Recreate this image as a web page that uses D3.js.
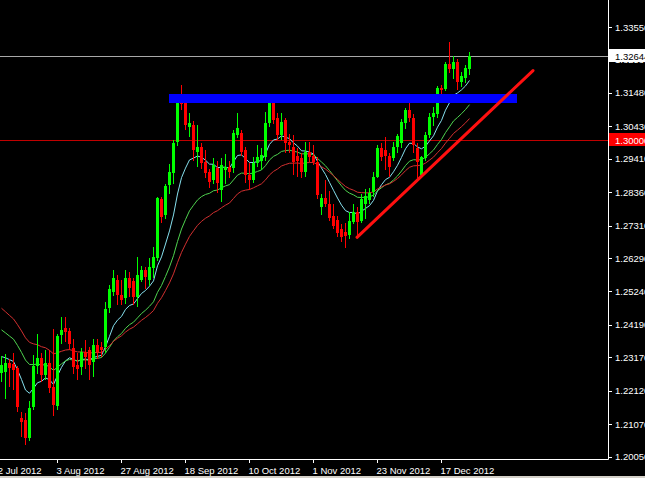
<!DOCTYPE html>
<html><head><meta charset="utf-8">
<script src="https://cdn.jsdelivr.net/npm/d3@7"></script>
<style>
body{margin:0;background:#000;overflow:hidden}
text{font-family:"Liberation Sans",Arial,sans-serif;font-size:9.5px}
</style>
</head><body>
<svg id="chart" width="645" height="478"></svg>
<script>
// ---------- DATA ----------
const firstBarDate = "2012-07-16";
const calendarStart = "2012-07-12";
const calendarEnd = "2013-02-28";
const holidays = ["2012-12-25"];

const opens = [1.2268,1.2270,1.2300,1.2297,1.2282,1.2126,1.2120,1.2064,1.2160,1.2290,
1.2315,1.2262,1.2300,1.2222,1.2165,1.2385,1.2410,1.2400,1.2345,1.2292,
1.2286,1.2333,1.2340,1.2300,1.2355,1.2349,1.2349,1.2470,1.2522,1.2560,
1.2513,1.2504,1.2567,1.2556,1.2506,1.2560,1.2591,1.2560,1.2598,1.2629,
1.2815,1.2765,1.2858,1.2896,1.2993,1.3128,1.3116,1.3040,1.3047,1.2962,
1.2978,1.2931,1.2899,1.2874,1.2912,1.2843,1.2906,1.2915,1.2912,1.3016,
1.3022,1.2969,1.2890,1.2874,1.2928,1.2935,1.2946,1.3053,1.3119,1.3069,
1.3016,1.3063,1.2995,1.2978,1.2950,1.2943,1.2899,1.2962,1.2950,1.2930,
1.2790,1.2818,1.2800,1.2760,1.2748,1.2720,1.2712,1.2702,1.2745,1.2775,
1.2745,1.2800,1.2811,1.2837,1.2884,1.2975,1.2968,1.2950,1.2943,1.2978,
1.2990,1.3053,1.3094,1.3069,1.2975,1.2890,1.2943,1.3016,1.3072,1.3080,
1.3163,1.3160,1.3238,1.3222,1.3245,1.3182,1.3195,1.3222];
const highs = [1.2322,1.2326,1.2312,1.2330,1.2290,1.2145,1.2142,1.2180,1.2325,1.2390,
1.2330,1.2340,1.2340,1.2405,1.2390,1.2444,1.2444,1.2410,1.2375,1.2330,
1.2345,1.2372,1.2350,1.2375,1.2375,1.2365,1.2490,1.2545,1.2592,1.2575,
1.2560,1.2590,1.2585,1.2565,1.2632,1.2605,1.2600,1.2629,1.2665,1.2820,
1.2822,1.2860,1.2925,1.3000,1.3135,1.3172,1.3130,1.3085,1.3060,1.3047,
1.2990,1.2969,1.2910,1.2943,1.2935,1.2943,1.2955,1.2935,1.3030,1.3085,
1.3030,1.2978,1.2928,1.2946,1.2984,1.2975,1.3088,1.3141,1.3140,1.3085,
1.3085,1.3070,1.3020,1.3015,1.2975,1.2960,1.2994,1.2995,1.2985,1.2945,
1.2830,1.2875,1.2840,1.2800,1.2760,1.2735,1.2740,1.2775,1.2800,1.2790,
1.2830,1.2845,1.2850,1.2900,1.2985,1.2990,1.3010,1.2960,1.2995,1.3020,
1.3065,1.3100,1.3126,1.3080,1.2990,1.2950,1.3025,1.3085,1.3105,1.3170,
1.3173,1.3245,1.3308,1.3265,1.3254,1.3215,1.3235,1.3275];
const lows = [1.2238,1.2185,1.2222,1.2214,1.2145,1.2067,1.2042,1.2055,1.2150,1.2265,
1.2240,1.2245,1.2205,1.2133,1.2150,1.2360,1.2365,1.2340,1.2265,1.2245,
1.2260,1.2280,1.2245,1.2255,1.2310,1.2318,1.2330,1.2455,1.2510,1.2480,
1.2480,1.2485,1.2505,1.2480,1.2475,1.2552,1.2530,1.2540,1.2565,1.2620,
1.2740,1.2750,1.2830,1.2860,1.2980,1.3095,1.3030,1.3009,1.2935,1.2915,
1.2910,1.2880,1.2849,1.2860,1.2833,1.2805,1.2860,1.2880,1.2895,1.3005,
1.2950,1.2865,1.2843,1.2865,1.2915,1.2905,1.2935,1.3040,1.3050,1.3000,
1.3000,1.2960,1.2960,1.2890,1.2885,1.2880,1.2884,1.2930,1.2920,1.2815,
1.2765,1.2790,1.2745,1.2720,1.2695,1.2680,1.2660,1.2690,1.2735,1.2700,
1.2740,1.2750,1.2800,1.2820,1.2880,1.2935,1.2905,1.2885,1.2935,1.2960,
1.2975,1.3035,1.3055,1.2960,1.2880,1.2880,1.2935,1.3005,1.3045,1.3070,
1.3141,1.3155,1.3210,1.3190,1.3157,1.3165,1.3180,1.3205];
const closes = [1.2292,1.2299,1.2283,1.2277,1.2158,1.2113,1.2064,1.2158,1.2290,1.2315,
1.2262,1.2300,1.2220,1.2165,1.2385,1.2402,1.2396,1.2360,1.2286,1.2280,
1.2333,1.2318,1.2293,1.2355,1.2333,1.2340,1.2470,1.2530,1.2567,1.2513,
1.2497,1.2567,1.2535,1.2506,1.2576,1.2591,1.2569,1.2601,1.2632,1.2818,
1.2758,1.2855,1.2900,1.2990,1.3126,1.3112,1.3047,1.3053,1.2969,1.2978,
1.2928,1.2896,1.2868,1.2921,1.2865,1.2921,1.2914,1.2900,1.3022,1.3038,
1.2962,1.2890,1.2874,1.2928,1.2946,1.2953,1.3053,1.3116,1.3063,1.3016,
1.3057,1.2990,1.2984,1.2931,1.2935,1.2899,1.2962,1.2946,1.2930,1.2827,
1.2818,1.2800,1.2755,1.2730,1.2708,1.2695,1.2700,1.2745,1.2775,1.2742,
1.2815,1.2825,1.2833,1.2884,1.2975,1.2946,1.2948,1.2915,1.2978,1.3012,
1.3057,1.3094,1.3069,1.2984,1.2930,1.2946,1.3016,1.3072,1.3085,1.3163,
1.3157,1.3238,1.3222,1.3245,1.3182,1.3200,1.3226,1.32644];

const priceTicks = [1.20050,1.21070,1.22120,1.23170,1.24190,1.25240,1.26290,1.27310,1.28360,1.29410,1.30430,1.31480,1.32530,1.33550];
const dateTicks = ["2012-07-12","2012-08-03","2012-08-27","2012-09-18","2012-10-10","2012-11-01","2012-11-23","2012-12-17"];

const maPeriods = [10, 21, 30];
const maSeeds = [1.2319, 1.2403, 1.2471];   // MA values at the first visible bar
const maColors = ["#86e0ee", "#4fd34f", "#d23030"];

const levelPrice = 1.30000;
const bidPrice = 1.32644;
const bandLevel = {from: "2012-09-12", to: "2013-01-14", price: 1.3130};
const trendPoints = [{date: "2012-11-16", price: 1.2694}, {date: "2013-01-18", price: 1.3218}];

// ---------- LAYOUT ----------
const W = 645, H = 478;
const plotRight = 608, plotBottom = 459;
const barStep = 4, calendarOffset = -7;

const parse = d3.timeParse("%Y-%m-%d");
const fmtKey = d3.timeFormat("%Y-%m-%d");
const calendar = d3.timeDay.range(parse(calendarStart), d3.timeDay.offset(parse(calendarEnd), 1))
  .filter(d => d.getDay() !== 0 && d.getDay() !== 6 && !holidays.includes(fmtKey(d)));
const calIndex = new Map(calendar.map((d, i) => [fmtKey(d), i]));
const firstIdx = calIndex.get(firstBarDate);

const bars = closes.map((c, k) => ({
  i: firstIdx + k, date: calendar[firstIdx + k],
  o: opens[k], h: highs[k], l: lows[k], c: c
}));

const x = d3.scaleLinear().domain([0, calendar.length - 1])
  .range([calendarOffset, calendarOffset + barStep * (calendar.length - 1)]);
const y = d3.scaleLinear().domain([1.2005, 1.3355]).range([456.5, 27]);

const svg = d3.select("#chart");
svg.append("rect").attr("width", W).attr("height", H).attr("fill", "#000");
svg.append("rect").attr("x", 0).attr("y", 476).attr("width", W).attr("height", 2).attr("fill", "#d4d0c8");

svg.append("clipPath").attr("id", "plot").append("rect")
  .attr("x", 0).attr("y", 0).attr("width", plotRight).attr("height", plotBottom);
const plot = svg.append("g").attr("clip-path", "url(#plot)");

// horizontal level lines
plot.append("line").attr("x1", 0).attr("x2", plotRight)
  .attr("y1", Math.round(y(levelPrice)) + 0.5).attr("y2", Math.round(y(levelPrice)) + 0.5)
  .attr("stroke", "#c00000").attr("stroke-width", 1);
plot.append("line").attr("x1", 0).attr("x2", plotRight)
  .attr("y1", Math.round(y(bidPrice)) + 0.5).attr("y2", Math.round(y(bidPrice)) + 0.5)
  .attr("stroke", "#a8a8a8").attr("stroke-width", 1);

// moving averages (EMA from closes, seeded by the first visible value)
maPeriods.forEach((p, m) => {
  const a = 2 / (p + 1);
  const vals = [];
  closes.forEach((c, k) => { vals.push(k === 0 ? maSeeds[m] : vals[k - 1] + a * (c - vals[k - 1])); });
  plot.append("path")
    .attr("d", d3.line().x((v, k) => Math.round(x(bars[k].i)) + 0.5).y(v => y(v))(vals))
    .attr("fill", "none").attr("stroke", maColors[m]).attr("stroke-width", 1);
});

// candles
const cg = plot.append("g").attr("shape-rendering", "crispEdges");
cg.selectAll("line.wick").data(bars).join("line").attr("class", "wick")
  .attr("x1", d => Math.round(x(d.i)) + 0.5).attr("x2", d => Math.round(x(d.i)) + 0.5)
  .attr("y1", d => y(d.h)).attr("y2", d => y(d.l))
  .attr("stroke", d => d.c >= d.o ? "#00ff00" : "#ff0000");
cg.selectAll("rect.body").data(bars).join("rect").attr("class", "body")
  .attr("x", d => Math.round(x(d.i)) - 1).attr("width", 3)
  .attr("y", d => Math.round(y(Math.max(d.o, d.c))))
  .attr("height", d => Math.max(1, Math.round(Math.abs(y(d.o) - y(d.c)))))
  .attr("fill", d => d.c >= d.o ? "#00ff00" : "#ff0000");

// blue resistance band
plot.append("line")
  .attr("x1", x(calIndex.get(bandLevel.from))).attr("x2", x(calIndex.get(bandLevel.to)))
  .attr("y1", y(bandLevel.price)).attr("y2", y(bandLevel.price))
  .attr("stroke", "#0000ff").attr("stroke-width", 9);

// red trend line
plot.append("line")
  .attr("x1", x(calIndex.get(trendPoints[0].date))).attr("y1", y(trendPoints[0].price))
  .attr("x2", x(calIndex.get(trendPoints[1].date))).attr("y2", y(trendPoints[1].price))
  .attr("stroke", "#ff1010").attr("stroke-width", 3).attr("stroke-linecap", "round");

// ---------- AXES ----------
const yAxis = d3.axisRight(y).tickValues(priceTicks).tickFormat(d3.format(".5f")).tickSize(4).tickPadding(3);
const gy = svg.append("g").attr("transform", `translate(${plotRight},0)`).call(yAxis);
gy.select(".domain").remove();
gy.selectAll(".tick line").attr("stroke", "#fff").attr("shape-rendering", "crispEdges");
gy.selectAll(".tick text").attr("fill", "#fff").style("font-family", "Liberation Sans, Arial").style("font-size", "9.5px");

const xAxis = d3.axisBottom(x).tickValues(dateTicks.map(d => calIndex.get(d)))
  .tickFormat(i => d3.timeFormat("%-d %b %Y")(calendar[i])).tickSize(4).tickPadding(4);
const gx = svg.append("g").attr("transform", `translate(0,${plotBottom})`).call(xAxis);
gx.select(".domain").remove();
gx.selectAll(".tick line").attr("stroke", "#fff").attr("shape-rendering", "crispEdges");
gx.selectAll(".tick text").attr("fill", "#fff").attr("text-anchor", "start").attr("dx", -1)
  .style("font-family", "Liberation Sans, Arial").style("font-size", "9.5px");

// frame lines
svg.append("line").attr("x1", plotRight + 0.5).attr("x2", plotRight + 0.5).attr("y1", 0).attr("y2", plotBottom + 0.5)
  .attr("stroke", "#fff");
svg.append("line").attr("x1", 0).attr("x2", plotRight + 0.5).attr("y1", plotBottom + 0.5).attr("y2", plotBottom + 0.5)
  .attr("stroke", "#fff");

// price tags for the level and the bid
function tag(price, bg, fg) {
  const yy = Math.round(y(price));
  svg.append("rect").attr("x", plotRight + 1).attr("y", yy - 7).attr("width", W - plotRight - 1).attr("height", 13)
    .attr("fill", bg);
  svg.append("text").attr("x", plotRight + 7).attr("y", yy + 3.5).attr("fill", fg)
    .text(d3.format(".5f")(price));
}
tag(levelPrice, "#ff0000", "#ffffff");
tag(bidPrice, "#ffffff", "#000000");
</script>
</body></html>
